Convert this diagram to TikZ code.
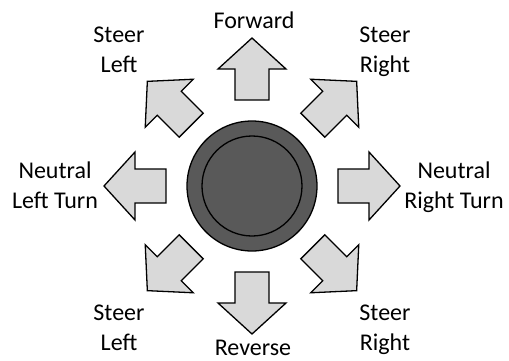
\documentclass[tikz,border=0pt]{standalone}
\usepackage{fontspec}
\setmainfont{Carlito}
\usetikzlibrary{positioning}
\definecolor{paddlegray}{RGB}{217,217,217}
\definecolor{knobgray}{RGB}{89,89,89}
\tikzset{
  paddle/.pic={
    \draw[line width=1.3pt, fill=paddlegray, line join=miter]
      (86,-17) -- (117,-17) -- (117,-34) -- (148,0) -- (117,34) -- (117,17) -- (86,17) -- cycle;
  },
  cmdlabel/.style={align=center, anchor=base, inner sep=0pt,
    font=\fontsize{24}{30}\selectfont}
}

\begin{document}
\begin{tikzpicture}[x=1pt, y=1pt]
  \useasboundingbox (-252,-174) rectangle (257,186);
  \node[circle, draw, line width=1.3pt, fill=knobgray, minimum size=130pt] (knob) at (0,0) {};
  \node[circle, draw, line width=1.3pt, minimum size=100pt] (knobcap) at (knob.center) {};
  \foreach \ang in {0,45,...,315}
    \pic[rotate=\ang] at (knob.center) {paddle};
  \node[cmdlabel] (fwd) at (2,158) {Forward};
  \node[cmdlabel] (rev) at (1,-169) {Reverse};
  \node[cmdlabel] (steerlu) at (-133,114) {Steer\\Left};
  \node[cmdlabel] (steerru) at (133,114) {Steer\\Right};
  \node[cmdlabel] (steerld) at (-133,-164) {Steer\\Left};
  \node[cmdlabel] (steerrd) at (133,-164) {Steer\\Right};
  \node[cmdlabel] (neutl) at (-197,-22) {Neutral\\Left Turn};
  \node[cmdlabel] (neutr) at (202,-22) {Neutral\\Right Turn};
\end{tikzpicture}
\end{document}
